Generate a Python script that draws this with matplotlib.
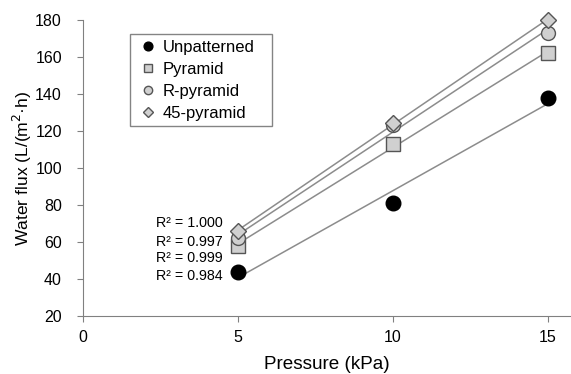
import numpy as np
import matplotlib
matplotlib.use("Agg")
import matplotlib.pyplot as plt

plt.rcParams['font.family'] = ['Liberation Sans', 'DejaVu Sans']

pressure = [5, 10, 15]
unpatterned = [44, 81, 138]
pyramid = [58, 113, 162]
r_pyramid = [62, 123, 173]
pyramid45 = [66, 124, 180]
series_names = ["Unpatterned", "Pyramid", "R-pyramid", "45-pyramid"]
r2_labels = ["R² = 1.000", "R² = 0.997", "R² = 0.999", "R² = 0.984"]
r2_y = [70, 60, 51.5, 41.5]

fig = plt.figure(figsize=(5.71, 3.74), dpi=100)
ax = fig.add_axes([0.145, 0.155, 0.855, 0.792])

styles = [
    dict(marker='o', mfc='black', mec='black'),
    dict(marker='s', mfc='#d0d0d0', mec='#555555'),
    dict(marker='o', mfc='#d0d0d0', mec='#555555'),
    dict(marker='D', mfc='#d0d0d0', mec='#555555'),
]
sizes = [10.5, 9.5, 10, 8.5]
data = [unpatterned, pyramid, r_pyramid, pyramid45]
xs = np.array(pressure, dtype=float)
for vals, st, ms, name in zip(data, styles, sizes, series_names):
    k, b = np.polyfit(xs, vals, 1)
    ax.plot(xs, k * xs + b, color='#8c8c8c', lw=1.1, zorder=1)
    ax.plot(xs, vals, ls='none', ms=ms, mew=1.0, label=name, zorder=3,
            clip_on=False, **st)

for lab, yv in zip(r2_labels, r2_y):
    ax.text(4.52, yv, lab, ha='right', va='center', fontsize=10.3)

ax.set_xlim(0, 15.75)
ax.set_ylim(20, 180)
ax.set_xticks([0, 5, 10, 15])
ax.set_yticks(range(20, 181, 20))
ax.tick_params(labelsize=11.5, direction='out', color='#808080', length=4)
ax.tick_params(axis='x', pad=6)
ax.tick_params(axis='y', pad=11)
for s in ['top', 'right']:
    ax.spines[s].set_visible(False)
for s in ['left', 'bottom']:
    ax.spines[s].set_color('#808080')
ax.set_xlabel("Pressure (kPa)", fontsize=13.6, labelpad=8)
ax.set_ylabel("Water flux (L/(m$^{2}$·h)", fontsize=12.6, labelpad=1)

leg = ax.legend(loc='upper left', bbox_to_anchor=(0.0963, 0.5, 0.291, 0.453),
                mode='expand', fontsize=12,
                frameon=True, fancybox=False, edgecolor='#666666',
                handletextpad=0.2, handlelength=1.44, borderpad=0.35,
                labelspacing=0.42, markerscale=0.6, borderaxespad=0)
leg.get_frame().set_linewidth(1.0)

fig.savefig("out.png", dpi=100)
